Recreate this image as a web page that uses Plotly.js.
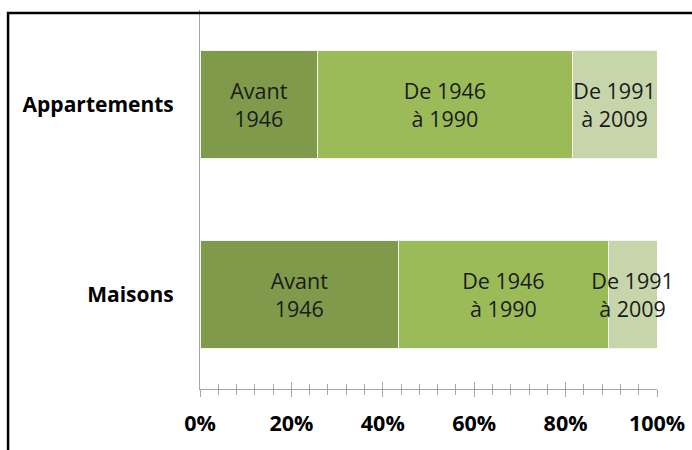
<!DOCTYPE html>
<html>
<head>
<meta charset="utf-8">
<script src="https://cdn.plot.ly/plotly-3.0.1.min.js"></script>
<style>html,body{margin:0;padding:0;background:#fff;}#chart{width:692px;height:450px;}</style>
</head>
<body>
<div id="chart"></div>
<script>
const categories = ['Appartements', 'Maisons'];
const seriesNames = ['Avant<br>1946', 'De 1946<br>à 1990', 'De 1991<br>à 2009'];
const avant1946 = [0.258, 0.435];
const de1946a1990 = [0.556, 0.458];
const de1991a2009 = [0.186, 0.107];
const tickVals = [0, 0.2, 0.4, 0.6, 0.8, 1.0];
const tickLabels = ['0%', '20%', '40%', '60%', '80%', '100%'];

const colors = ['#7F9A4A', '#9BBB59', '#C6D6AA'];
const seriesValues = [avant1946, de1946a1990, de1991a2009];
const FONT = '"Open Sans", Lato, sans-serif';

const traces = seriesValues.map((vals, i) => ({
  type: 'bar',
  orientation: 'h',
  y: categories,
  x: vals,
  name: seriesNames[i].replace('<br>', ' '),
  text: categories.map(() => seriesNames[i]),
  textposition: 'inside',
  insidetextanchor: 'middle',
  constraintext: 'none',
  textangle: 0,
  insidetextfont: {family: FONT, size: 21.5, color: '#1a1a1a'},
  marker: {color: colors[i], line: {color: '#f4f4f4', width: 1}},
  hoverinfo: 'skip',
  cliponaxis: false
}));

const layout = {
  width: 692, height: 450,
  margin: {l: 200, r: 35, t: 10, b: 61},
  barmode: 'stack',
  bargap: 0.43,
  showlegend: false,
  paper_bgcolor: '#ffffff',
  plot_bgcolor: '#ffffff',
  font: {family: FONT, color: '#000'},
  xaxis: {
    range: [0, 1],
    tickvals: tickVals,
    ticktext: tickLabels,
    showgrid: false,
    zeroline: false,
    showline: true,
    linecolor: '#a6a6a6',
    linewidth: 1,
    ticks: 'outside',
    ticklen: 7,
    tickcolor: '#a6a6a6',
    tickwidth: 1,
    minor: {dtick: 0.04, ticks: 'outside', ticklen: 5, tickcolor: '#a6a6a6', tickwidth: 1, showgrid: false},
    tickfont: {family: FONT, size: 21.5, color: '#000', weight: 'bold'},
    ticklabelstandoff: 8,
    fixedrange: true
  },
  xaxis2: {
    overlaying: 'x',
    matches: 'x',
    range: [0, 1],
    side: 'bottom',
    anchor: 'y',
    tickvals: tickVals,
    showticklabels: false,
    showgrid: false,
    zeroline: false,
    showline: false,
    ticks: 'inside',
    ticklen: 7,
    tickcolor: '#a6a6a6',
    tickwidth: 1,
    minor: {dtick: 0.04, ticks: 'inside', ticklen: 5, tickcolor: '#a6a6a6', tickwidth: 1, showgrid: false}
  },
  yaxis: {
    autorange: 'reversed',
    showgrid: false,
    zeroline: false,
    showline: true,
    linecolor: '#a6a6a6',
    linewidth: 1,
    ticks: '',
    ticklabelstandoff: 21,
    tickfont: {family: FONT, size: 21, color: '#000', weight: 'bold'},
    fixedrange: true
  },
  shapes: [{
    type: 'rect', xref: 'paper', yref: 'paper',
    x0: -0.42, x1: 1.2, y0: -0.5, y1: 0.992,
    line: {color: '#000', width: 2.5},
    fillcolor: 'rgba(0,0,0,0)',
    layer: 'above'
  }]
};

traces.push({type: 'scatter', x: [0, 1], y: categories, xaxis: 'x2', mode: 'none', hoverinfo: 'skip', showlegend: false});

Plotly.newPlot('chart', traces, layout, {staticPlot: true, displayModeBar: false});
</script>
</body>
</html>
